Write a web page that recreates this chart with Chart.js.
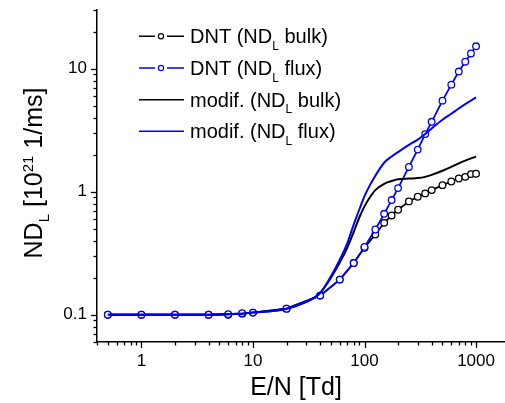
<!DOCTYPE html>
<html><head><meta charset="utf-8">
<script src="https://cdn.jsdelivr.net/npm/chart.js@4.4.1/dist/chart.umd.min.js"></script>
<style>html,body{margin:0;padding:0;background:#fff;}</style>
</head><body>
<canvas id="c" width="505" height="403"></canvas>
<script>
// ---- data ----
const xDNT = [0.5, 1, 2, 4, 6, 8, 10, 20, 40, 60, 80, 100, 125, 150, 175, 200, 250, 300, 350, 400, 500, 600, 700, 800, 900, 1000];
const dntBulk = [0.1, 0.1, 0.1, 0.1, 0.1, 0.102, 0.104, 0.112, 0.143, 0.193, 0.263, 0.35, 0.449, 0.558, 0.641, 0.713, 0.834, 0.91, 0.969, 1.03, 1.13, 1.21, 1.28, 1.32, 1.39, 1.40];
const dntFlux = [0.1, 0.1, 0.1, 0.1, 0.101, 0.103, 0.104, 0.112, 0.143, 0.193, 0.263, 0.356, 0.493, 0.661, 0.855, 1.07, 1.59, 2.20, 2.94, 3.70, 5.50, 7.42, 9.48, 11.4, 13.3, 15.2];
const xModif = [0.5, 1, 2, 4, 6, 8, 10, 20, 30, 40, 50, 60, 70, 80, 90, 100, 110, 125, 150, 175, 200, 250, 300, 350, 400, 500, 600, 700, 800, 1000];
const modifBulk = [0.1, 0.1, 0.1, 0.1, 0.101, 0.102, 0.104, 0.112, 0.127, 0.15, 0.2, 0.265, 0.35, 0.47, 0.62, 0.76, 0.88, 1.03, 1.16, 1.22, 1.26, 1.28, 1.29, 1.32, 1.37, 1.48, 1.59, 1.70, 1.79, 1.93];
const modifFlux = [0.1, 0.1, 0.1, 0.1, 0.101, 0.102, 0.104, 0.112, 0.127, 0.15, 0.205, 0.28, 0.38, 0.54, 0.72, 0.92, 1.1, 1.35, 1.72, 1.93, 2.1, 2.4, 2.65, 2.95, 3.27, 3.85, 4.3, 4.75, 5.15, 5.85];
const seriesLabels = ['DNT (ND_{L} bulk)', 'DNT (ND_{L} flux)', 'modif. (ND_{L} bulk)', 'modif. (ND_{L} flux)'];
const xTickValues = [0.4,0.5,0.6,0.7,0.8,0.9,1,2,3,4,5,6,7,8,9,10,20,30,40,50,60,70,80,90,100,200,300,400,500,600,700,800,900,1000];
const xTickLabels = {1:'1', 10:'10', 100:'100', 1000:'1000'};
const yTickValues = [0.06,0.07,0.08,0.09,0.1,0.2,0.3,0.4,0.5,0.6,0.7,0.8,0.9,1,2,3,4,5,6,7,8,9,10,20,30];
const yTickLabels = {0.1:'0.1', 1:'1', 10:'10'};
const xTitle = 'E/N [Td]';
const yTitle = 'ND_{L} [10^{21} 1/ms]';

const FONT = '"Liberation Sans", Arial, Helvetica, sans-serif';
const BLUE = '#0000ff';
const BLACK = '#000000';

function pts(xs, ys){ return xs.map((x,i)=>({x:x, y:ys[i]})); }

function parseRich(s, size, small, subDy, supDy){
  const parts = [];
  const re = /(_\{[^}]*\}|\^\{[^}]*\})/;
  s.split(re).forEach(p=>{
    if(!p) return;
    if(p.startsWith('_{')) parts.push({t:p.slice(2,-1), size:small, dy:subDy});
    else if(p.startsWith('^{')) parts.push({t:p.slice(2,-1), size:small, dy:supDy});
    else parts.push({t:p, size:size, dy:0});
  });
  return parts;
}
function richWidth(ctx, parts){
  let w=0; parts.forEach(p=>{ctx.font = p.size+'px '+FONT; w+=ctx.measureText(p.t).width;}); return w;
}
function drawRich(ctx, parts, x, y){
  ctx.textBaseline='alphabetic'; ctx.textAlign='left';
  parts.forEach(p=>{ctx.font = p.size+'px '+FONT; ctx.fillText(p.t, x, y+p.dy); x+=ctx.measureText(p.t).width;});
}

const decor = {
  id:'decor',
  afterDraw(chart){
    const ctx = chart.ctx; const xs = chart.scales.x, ys = chart.scales.y;
    const area = chart.chartArea;
    ctx.save();
    ctx.strokeStyle = BLACK; ctx.lineWidth = 1.3;
    const isMajor = v => Math.abs(Math.log10(v) - Math.round(Math.log10(v))) < 1e-9;
    xTickValues.forEach(v=>{
      const px = Math.round(xs.getPixelForValue(v))+0.5;
      const len = isMajor(v) ? 6 : 3.5;
      ctx.beginPath(); ctx.moveTo(px, area.bottom); ctx.lineTo(px, area.bottom+len); ctx.stroke();
    });
    yTickValues.forEach(v=>{
      const py = Math.round(ys.getPixelForValue(v))+0.5;
      const len = isMajor(v) ? 6 : 3.5;
      ctx.beginPath(); ctx.moveTo(area.left, py); ctx.lineTo(area.left-len, py); ctx.stroke();
    });
    ctx.fillStyle = BLACK;
    // x title
    const xp = parseRich(xTitle, 25, 15, 7, -9);
    drawRich(ctx, xp, 296 - richWidth(ctx,xp)/2, 395);
    // y title
    const yp = parseRich(yTitle, 25, 15, 7, -9);
    ctx.save(); ctx.translate(42, 173); ctx.rotate(-Math.PI/2);
    drawRich(ctx, yp, -richWidth(ctx,yp)/2, 0);
    ctx.restore();
    // legend
    const rowsY = [43.3, 75, 106.7, 138.3];
    chart.data.datasets.forEach((ds, i)=>{
      const by = rowsY[i]; const ly = by - 7;
      ctx.strokeStyle = ds.borderColor; ctx.lineWidth = 1.6;
      if(ds.pointRadius > 0){
        ctx.beginPath(); ctx.moveTo(139, ly); ctx.lineTo(155, ly); ctx.moveTo(167, ly); ctx.lineTo(184, ly); ctx.stroke();
        ctx.lineWidth = 1.2; ctx.fillStyle='#fff';
        ctx.beginPath(); ctx.arc(161, ly, 2.6, 0, Math.PI*2); ctx.fill(); ctx.stroke();
      } else {
        ctx.beginPath(); ctx.moveTo(139, ly); ctx.lineTo(184, ly); ctx.stroke();
      }
      ctx.fillStyle = BLACK;
      drawRich(ctx, parseRich(seriesLabels[i], 20, 12, 6.7, -8), 190, by);
    });
    ctx.restore();
  }
};

function zeroPad(s){ s.paddingTop = 0; s.paddingBottom = 0; s.paddingLeft = 0; s.paddingRight = 0; }

new Chart(document.getElementById('c'), {
  type:'line',
  data:{ datasets:[
    {label:seriesLabels[0], data:pts(xDNT, dntBulk), borderColor:BLACK, borderWidth:1.8, pointRadius:3.3, pointBorderWidth:1.3, pointBackgroundColor:'#fff', pointBorderColor:BLACK, tension:0, order:4},
    {label:seriesLabels[1], data:pts(xDNT, dntFlux), borderColor:BLUE, borderWidth:1.8, pointRadius:3.3, pointBorderWidth:1.3, pointBackgroundColor:'#fff', pointBorderColor:BLUE, tension:0, order:3},
    {label:seriesLabels[2], data:pts(xModif, modifBulk), borderColor:BLACK, borderWidth:2, pointRadius:0, cubicInterpolationMode:'monotone', order:2},
    {label:seriesLabels[3], data:pts(xModif, modifFlux), borderColor:BLUE, borderWidth:2, pointRadius:0, cubicInterpolationMode:'monotone', order:1}
  ]},
  options:{
    responsive:false, animation:false, devicePixelRatio:1,
    layout:{autoPadding:false, padding:{top:10, right:1, left:0, bottom:0}},
    plugins:{legend:{display:false}, tooltip:{enabled:false}},
    scales:{
      x:{type:'logarithmic', min:0.4, max:1780,
        grid:{display:false, drawTicks:false},
        border:{display:true, color:BLACK, width:1.5},
        ticks:{autoSkip:false, maxRotation:0, padding:9, color:BLACK, font:{family:FONT, size:17},
          callback:(v)=> (xTickLabels[v] !== undefined ? xTickLabels[v] : null)},
        afterBuildTicks:(s)=>{ s.ticks = xTickValues.map(v=>({value:v})); },
        afterFit:(s)=>{ s.height = 61; zeroPad(s); }
      },
      y:{type:'logarithmic', min:0.06, max:30,
        grid:{display:false, drawTicks:false},
        border:{display:true, color:BLACK, width:1.5},
        ticks:{autoSkip:false, padding:10, color:BLACK, font:{family:FONT, size:17},
          callback:(v)=> (yTickLabels[v] !== undefined ? yTickLabels[v] : null)},
        afterBuildTicks:(s)=>{ s.ticks = yTickValues.map(v=>({value:v})); },
        afterFit:(s)=>{ s.width = 97; zeroPad(s); }
      }
    }
  },
  plugins:[decor]
});
</script>
</body></html>
